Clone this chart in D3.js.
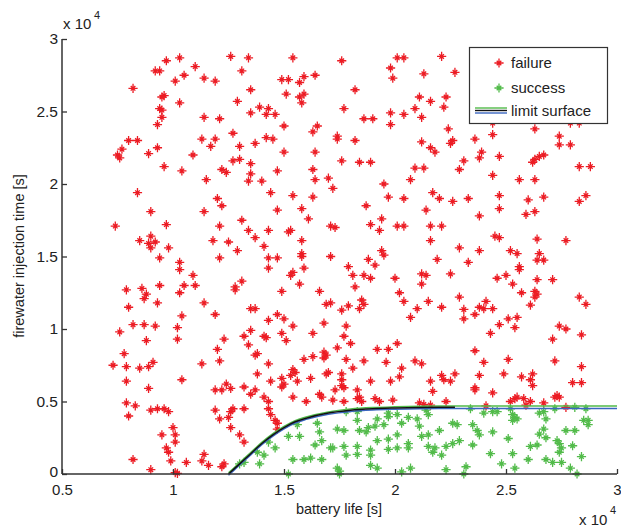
<!DOCTYPE html>
<html><head><meta charset="utf-8">
<script src="https://cdn.jsdelivr.net/npm/d3@7"></script>
<style>
html,body{margin:0;padding:0;background:#fff;}
svg text{font-family:"Liberation Sans",Arial,Helvetica,sans-serif;fill:#222;}
</style></head>
<body><svg id="c" width="621" height="531"></svg>
<script>
// values in units of 10^4 s
const failure = [
[0.97,2.85],[1.03,2.87],[1.10,2.81],[1.26,2.88],[1.34,2.87],[0.92,2.78],[0.94,2.78],[1.01,2.71],[1.05,2.75],[1.14,2.73],[1.19,2.71],[1.31,2.78],[0.82,2.66],[1.35,2.65],[0.96,2.61],[0.95,2.60],[1.03,2.56],[1.29,2.57],[0.94,2.52],[0.95,2.51],[0.95,2.46],[0.93,2.41],[1.14,2.46],[1.21,2.45],[1.35,2.49],[1.27,2.35],[0.80,2.30],[0.84,2.30],[0.77,2.24],[0.75,2.20],[0.76,2.18],[0.89,2.21],[0.93,2.25],[1.13,2.31],[1.19,2.31],[1.17,2.26],[1.30,2.26],[1.09,2.20],[1.27,2.16],[1.30,2.17],[1.35,2.14],[0.96,2.12],[1.04,2.09],[1.22,2.10],[1.24,2.08],[1.35,2.07],[1.15,2.03],[1.34,2.02],[0.84,1.94],[1.20,1.90],[1.22,1.85],[0.90,1.81],[1.14,1.81],[1.31,1.75],[0.74,1.71],[0.97,1.72],[1.21,1.71],[1.34,1.68],[0.85,1.61],[0.90,1.64],[0.89,1.59],[0.92,1.60],[0.90,1.56],[0.98,1.56],[1.18,1.61],[1.25,1.60],[1.29,1.54],
[1.54,2.87],[1.76,2.85],[2.01,2.87],[2.04,2.87],[1.98,2.80],[1.99,2.73],[2.13,2.76],[1.49,2.72],[1.52,2.72],[1.59,2.74],[1.57,2.70],[1.64,2.75],[1.51,2.62],[1.57,2.60],[1.59,2.62],[1.58,2.56],[1.82,2.65],[2.11,2.60],[2.16,2.57],[1.39,2.53],[1.43,2.52],[1.42,2.48],[1.46,2.48],[1.77,2.52],[1.86,2.45],[1.90,2.45],[1.98,2.49],[1.98,2.41],[2.04,2.48],[2.09,2.52],[2.12,2.46],[1.50,2.40],[1.65,2.40],[1.63,2.36],[1.74,2.33],[1.74,2.31],[1.82,2.30],[1.42,2.32],[1.45,2.31],[1.37,2.28],[2.12,2.29],[2.16,2.25],[2.18,2.22],[1.50,2.22],[1.64,2.22],[1.76,2.16],[1.84,2.15],[1.89,2.15],[2.09,2.11],[2.13,2.11],[1.40,2.02],[1.47,2.09],[1.63,2.10],[1.64,2.03],[1.70,2.04],[1.72,1.97],[1.95,2.00],[2.07,2.03],[1.44,1.94],[1.54,1.92],[1.63,1.91],[1.97,1.91],[2.04,1.90],[2.17,1.94],[1.47,1.82],[1.58,1.83],[1.61,1.76],[1.87,1.85],[2.14,1.82],[1.94,1.76],[1.37,1.63],[1.43,1.68],[1.52,1.67],[1.53,1.68],[1.58,1.61],[1.71,1.71],[1.73,1.70],[1.89,1.72],[1.93,1.68],[2.01,1.71],[2.04,1.71],[2.16,1.71],[2.16,1.61],[1.41,1.57],[1.94,1.54],[1.58,1.52],
[2.21,2.88],[2.27,2.77],[2.23,2.60],[2.22,2.53],[2.24,2.38],[2.26,2.30],[2.25,2.28],[2.36,2.31],[2.44,2.34],[2.63,2.38],[2.74,2.33],[2.74,2.27],[2.79,2.27],[2.39,2.22],[2.38,2.18],[2.47,2.19],[2.31,2.16],[2.29,2.10],[2.65,2.19],[2.67,2.20],[2.62,2.15],[2.63,2.17],[2.83,2.12],[2.88,2.12],[2.44,2.06],[2.56,2.03],[2.63,2.03],[2.20,1.90],[2.26,1.88],[2.33,1.90],[2.47,1.92],[2.60,1.89],[2.67,1.91],[2.83,1.88],[2.86,1.92],[2.38,1.78],[2.47,1.83],[2.59,1.79],[2.63,1.81],[2.21,1.71],[2.29,1.56],[2.38,1.54],[2.45,1.64],[2.47,1.63],[2.64,1.62],[2.77,1.61],[2.52,1.54],[2.55,1.52],[2.65,1.52],[2.44,2.42],[2.79,2.42],[2.83,2.42],[2.50,2.70],[2.65,2.80],[2.75,2.60],[2.90,2.75],[2.60,2.55],
[0.94,1.49],[1.03,1.46],[1.03,1.41],[1.21,1.49],[1.09,1.37],[1.05,1.30],[1.10,1.30],[1.03,1.25],[0.79,1.27],[0.86,1.28],[0.88,1.24],[0.87,1.21],[0.94,1.30],[0.93,1.18],[0.80,1.15],[1.14,1.18],[1.04,1.09],[1.19,1.10],[1.28,1.29],[1.31,1.33],[1.28,1.27],[1.35,1.14],[0.76,0.98],[0.82,1.03],[0.87,1.03],[0.92,1.02],[1.02,1.01],[1.02,0.93],[0.88,0.92],[1.23,0.93],[1.32,0.95],[1.35,0.99],[1.34,0.89],[1.20,0.86],[0.78,0.83],[1.21,0.78],[1.13,0.76],[0.73,0.75],[0.79,0.74],[0.85,0.73],[0.89,0.74],[0.91,0.77],[0.79,0.64],[1.04,0.65],[0.89,0.59],[1.24,0.62],[1.19,0.58],[1.22,0.58],[1.26,0.59],[1.32,0.60],[1.35,0.55],[0.79,0.49],[0.83,0.47],[0.80,0.40],[0.90,0.44],[0.93,0.45],[0.96,0.45],[0.98,0.43],[1.19,0.44],[1.21,0.38],[1.27,0.45],[1.26,0.43],[1.25,0.39],[1.32,0.45],[1.26,0.32],[1.00,0.32],[0.95,0.27],[1.01,0.27],[1.01,0.22],[0.97,0.18],[0.98,0.15],[0.99,0.09],[1.30,0.27],[1.32,0.22],[0.82,0.10],[0.90,0.03],[1.06,0.08],[1.14,0.135],[1.13,0.09],[1.16,0.06],[1.23,0.07],[1.22,0.05],[1.02,0.005],[1.01,0.01],
[1.43,1.49],[1.47,1.49],[1.43,1.42],[1.58,1.50],[1.54,1.39],[1.53,1.37],[1.59,1.42],[1.57,1.31],[1.71,1.50],[1.49,1.26],[1.66,1.26],[1.79,1.43],[1.81,1.37],[1.88,1.48],[1.91,1.44],[1.86,1.37],[1.89,1.35],[1.82,1.29],[2.00,1.35],[2.12,1.38],[2.14,1.37],[2.12,1.31],[1.95,1.51],[1.37,1.14],[1.43,1.06],[1.47,1.10],[1.50,1.07],[1.54,1.02],[1.49,0.97],[1.51,0.92],[1.41,0.95],[1.42,0.94],[1.68,1.04],[1.63,0.97],[1.69,1.17],[1.71,1.18],[1.79,1.16],[1.76,1.13],[1.85,1.20],[1.84,1.14],[1.86,1.17],[1.78,1.02],[1.77,0.95],[1.80,0.90],[2.02,1.25],[2.04,1.19],[2.10,1.14],[2.07,1.08],[2.15,1.19],[1.37,0.82],[1.38,0.83],[1.43,0.76],[1.68,0.84],[1.69,0.82],[1.68,0.80],[1.59,0.79],[1.63,0.81],[1.74,0.87],[1.78,0.79],[1.81,0.73],[1.86,0.78],[1.92,0.86],[1.97,0.86],[2.01,0.90],[1.96,0.77],[2.09,0.78],[2.12,0.76],[1.38,0.69],[1.54,0.72],[1.55,0.70],[1.53,0.68],[1.62,0.66],[1.70,0.70],[1.69,0.69],[1.76,0.65],[1.76,0.69],[1.44,0.64],[1.49,0.66],[1.50,0.62],[1.49,0.60],[1.56,0.64],[1.37,0.58],[1.41,0.53],[1.54,0.53],[1.60,0.50],[1.66,0.55],[1.67,0.53],[1.73,0.58],[1.72,0.51],[1.77,0.595],[1.76,0.61],[1.77,0.50],[1.83,0.58],[1.84,0.53],[1.89,0.64],[1.98,0.64],[2.03,0.73],[2.02,0.67],[2.16,0.64],[2.17,0.57],[1.43,0.50],[1.43,0.45],[1.44,0.41],[1.46,0.37],[1.47,0.35],[1.47,0.31],[1.83,0.52],[1.85,0.50],[1.91,0.52],[1.93,0.50],[1.99,0.51],[2.11,0.49],[2.13,0.48],[2.16,0.475],
[2.19,1.48],[2.33,1.46],[2.25,1.38],[2.46,1.35],[2.50,1.37],[2.53,1.31],[2.56,1.43],[2.56,1.41],[2.64,1.475],[2.67,1.475],[2.64,1.34],[2.71,1.34],[2.63,1.26],[2.64,1.24],[2.63,1.22],[2.57,1.25],[2.61,1.165],[2.29,1.22],[2.21,1.15],[2.31,1.135],[2.31,1.07],[2.36,1.10],[2.38,1.15],[2.40,1.14],[2.41,1.19],[2.44,1.14],[2.51,1.07],[2.55,1.08],[2.54,1.01],[2.47,1.03],[2.43,0.97],[2.74,1.02],[2.77,1.00],[2.71,0.93],[2.84,0.96],[2.83,1.22],[2.86,1.17],[2.36,0.85],[2.40,0.77],[2.51,0.79],[2.72,0.78],[2.84,0.74],[2.21,0.68],[2.22,0.65],[2.25,0.64],[2.27,0.69],[2.38,0.68],[2.49,0.69],[2.57,0.67],[2.61,0.65],[2.62,0.69],[2.62,0.61],[2.80,0.63],[2.84,0.63],[2.36,0.595],[2.36,0.58],[2.44,0.56],[2.23,0.50],[2.41,0.47],[2.52,0.50],[2.54,0.52],[2.55,0.53],[2.58,0.52],[2.59,0.475],[2.61,0.50],[2.67,0.49],[2.73,0.54],[2.74,0.53],[2.72,0.53],[2.77,0.46]
];
const success = [
[1.30,0.07],[1.32,0.08],[1.38,0.15],[1.41,0.13],[1.39,0.07],[1.46,0.18],[1.43,0.22],[1.52,0.26],[1.57,0.26],[1.54,0.10],[1.59,0.10],[1.62,0.11],[1.67,0.10],[1.65,0.35],[1.66,0.29],[1.67,0.23],[1.64,0.20],[1.71,0.18],[1.72,0.18],[1.52,0.00],[1.74,0.04],[1.75,0.02],[1.75,0.00],[1.74,0.31],[1.77,0.30],[1.78,0.43],[1.83,0.43],[1.83,0.37],[1.84,0.30],[1.88,0.32],[1.87,0.29],[1.91,0.33],[1.95,0.34],[1.92,0.38],[1.97,0.42],[1.97,0.395],[2.01,0.41],[2.06,0.39],[2.10,0.38],[2.03,0.35],[2.11,0.33],[2.15,0.27],[2.12,0.26],[2.01,0.27],[1.97,0.24],[1.92,0.23],[1.83,0.19],[1.77,0.19],[1.78,0.13],[1.83,0.135],[1.89,0.165],[1.89,0.13],[1.97,0.17],[2.01,0.18],[2.06,0.21],[2.06,0.18],[2.14,0.44],[2.15,0.41],[2.07,0.04],[2.03,0.015],[1.89,0.06],[1.92,0.04],[1.56,0.34],[2.15,0.19],
[2.34,0.45],[2.40,0.42],[2.44,0.43],[2.46,0.43],[2.52,0.45],[2.53,0.41],[2.54,0.39],[2.53,0.37],[2.55,0.38],[2.65,0.42],[2.67,0.43],[2.72,0.45],[2.81,0.46],[2.86,0.45],[2.68,0.38],[2.85,0.37],[2.87,0.37],[2.87,0.34],[2.26,0.35],[2.28,0.34],[2.20,0.30],[2.35,0.34],[2.37,0.30],[2.38,0.27],[2.44,0.29],[2.51,0.245],[2.67,0.31],[2.65,0.275],[2.68,0.25],[2.77,0.30],[2.81,0.30],[2.26,0.21],[2.29,0.23],[2.23,0.19],[2.18,0.18],[2.17,0.15],[2.21,0.13],[2.35,0.20],[2.61,0.19],[2.64,0.20],[2.73,0.23],[2.74,0.21],[2.75,0.18],[2.74,0.15],[2.80,0.195],[2.43,0.14],[2.53,0.14],[2.48,0.07],[2.54,0.04],[2.60,0.10],[2.68,0.10],[2.71,0.08],[2.75,0.08],[2.84,0.12],[2.23,0.03],[2.32,0.05],[2.31,0.00],[2.79,0.04],[2.82,0.00]
];
const limitX = [1.25,1.30,1.35,1.40,1.45,1.50,1.55,1.60,1.70,1.80,1.90,2.00,2.20,2.27,3.00];
const limitY = [0,0.07,0.14,0.21,0.27,0.32,0.36,0.385,0.42,0.44,0.45,0.455,0.46,0.46,0.46];
const xTicks = [0.5,1,1.5,2,2.5,3];
const yTicks = [0,0.5,1,1.5,2,2.5,3];
const legendLabels = ["failure","success","limit surface"];

const RED="#ec1c24", GREEN="#52bb4a", BLUE="#3b66c0";
const svg = d3.select("#c");
const x = d3.scaleLinear().domain([0.5,3]).range([62,617]);
const y = d3.scaleLinear().domain([0,3]).range([474,39]);

const star = "M-4.6,0H4.6M0,-4.6V4.6M-2.3,-2.3L2.3,2.3M-2.3,2.3L2.3,-2.3";
function drawPts(data,color){
  svg.append("g").selectAll("path").data(data).join("path")
    .attr("d",star).attr("transform",d=>`translate(${x(d[0])},${y(d[1])})`)
    .attr("stroke",color).attr("stroke-width",1.3).attr("fill","none");
}
drawPts(failure,RED);
drawPts(success,GREEN);

const lim = limitX.map((v,i)=>[v,limitY[i]]);
const line = off => d3.line().x(d=>x(d[0])).y(d=>y(d[1])+off).curve(d3.curveMonotoneX);
svg.append("path").datum(lim).attr("d",line(-1.2)).attr("stroke",GREEN).attr("stroke-width",1.5).attr("fill","none");
svg.append("path").datum(lim).attr("d",line(1.2)).attr("stroke",BLUE).attr("stroke-width",1.5).attr("fill","none");
svg.append("path").datum(lim.filter(d=>d[0]<=2.27)).attr("d",line(0)).attr("stroke","#111").attr("stroke-width",1.5).attr("fill","none");

// axes
const xa = svg.append("g").attr("transform","translate(0,474)")
  .call(d3.axisBottom(x).tickValues(xTicks).tickSize(-5).tickFormat(d3.format("")));
const ya = svg.append("g").attr("transform","translate(62,0)")
  .call(d3.axisLeft(y).tickValues(yTicks).tickSize(-5).tickFormat(d3.format("")));
[xa,ya].forEach(a=>{
  a.select(".domain").attr("stroke","#333").attr("stroke-width",1.5);
  a.selectAll(".tick line").attr("stroke","#333").attr("stroke-width",1.3);
  a.selectAll("text").attr("font-size",15).attr("fill","#222").style("font-family",'"Liberation Sans",Arial,sans-serif');
});
xa.select(".domain").attr("d","M62,0H617");
ya.select(".domain").attr("d","M0,474V39");
xa.selectAll(".tick text").attr("y",10).attr("dy","0.71em");
ya.selectAll(".tick text").attr("x",-4).attr("font-size",15.5)
  .attr("y",d=>d===0?-2.5:0);

// exponent labels
svg.append("text").attr("x",63).attr("y",29).attr("font-size",15).text("x 10");
svg.append("text").attr("x",94).attr("y",19).attr("font-size",11).text("4");
svg.append("text").attr("x",579).attr("y",525).attr("font-size",15).text("x 10");
svg.append("text").attr("x",610).attr("y",514).attr("font-size",11).text("4");

// axis labels
svg.append("text").attr("x",339).attr("y",514).attr("text-anchor","middle").attr("font-size",14.5).text("battery life [s]");
svg.append("text").attr("transform","translate(24,256) rotate(-90)").attr("text-anchor","middle").attr("font-size",14.5).text("firewater injection time [s]");

// legend
const lg = svg.append("g");
lg.append("rect").attr("x",469.5).attr("y",47.5).attr("width",138).attr("height",76).attr("fill","#fff").attr("stroke","#333").attr("stroke-width",1.2);
lg.append("path").attr("d",star).attr("transform","translate(499,63)").attr("stroke",RED).attr("stroke-width",1.3).attr("fill","none");
lg.append("path").attr("d",star).attr("transform","translate(499,88)").attr("stroke",GREEN).attr("stroke-width",1.3).attr("fill","none");
lg.append("line").attr("x1",475).attr("x2",507).attr("y1",108).attr("y2",108).attr("stroke",GREEN).attr("stroke-width",1.4);
lg.append("line").attr("x1",475).attr("x2",507).attr("y1",110.5).attr("y2",110.5).attr("stroke","#111").attr("stroke-width",1.4);
lg.append("line").attr("x1",475).attr("x2",507).attr("y1",113).attr("y2",113).attr("stroke",BLUE).attr("stroke-width",1.4);
legendLabels.forEach((t,i)=>{
  lg.append("text").attr("x",511).attr("y",[68,93,116][i]).attr("font-size",15).text(t);
});
</script></body></html>
